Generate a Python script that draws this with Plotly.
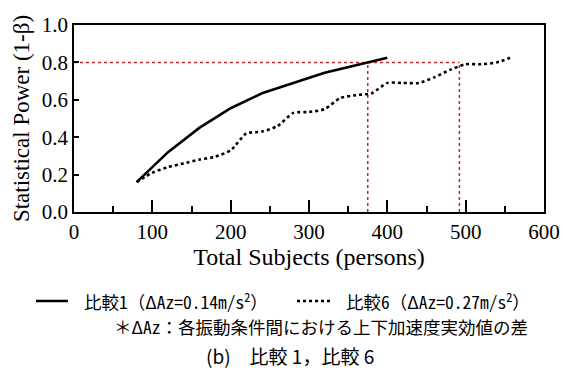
import plotly.graph_objects as go

# Data
x_cmp1 = [80, 120, 160, 200, 240, 280, 320, 360, 400]
y_cmp1 = [0.16, 0.32, 0.45, 0.555, 0.635, 0.69, 0.745, 0.785, 0.825]

x_cmp6 = [80, 100, 120, 140, 160, 180, 200, 220, 240, 260, 280, 300, 320, 340, 360,
          380, 400, 420, 440, 460, 480, 500, 520, 540, 560]
y_cmp6 = [0.16, 0.21, 0.24, 0.26, 0.28, 0.295, 0.33, 0.42, 0.43, 0.46, 0.53, 0.535,
          0.55, 0.61, 0.625, 0.635, 0.69, 0.69, 0.69, 0.72, 0.76, 0.79, 0.79, 0.80, 0.83]

target_power = 0.8
n_cmp1_at_target = 375
n_cmp6_at_target = 492

x_ticks = [0, 100, 200, 300, 400, 500, 600]
x_minor = [50, 150, 250, 350, 450, 550]
y_ticks = [0.0, 0.2, 0.4, 0.6, 0.8, 1.0]

legend1 = "比較1（ΔAz=0.14m/s<sup>2</sup>）"
legend6 = "比較6（ΔAz=0.27m/s<sup>2</sup>）"
note = "＊ΔAz：各振動条件間における上下加速度実効値の差"
caption = "(b)　比較 1，比較 6"

red = "#c0262b"
serif = "Liberation Serif"
jp = "Noto Sans Mono CJK JP, Noto Sans CJK JP"
jp2 = "Noto Sans CJK JP"

fig = go.Figure()

# Reference (red dotted) lines
for xs, ys in [([0, n_cmp6_at_target], [target_power, target_power]),
               ([n_cmp1_at_target, n_cmp1_at_target], [0, target_power]),
               ([n_cmp6_at_target, n_cmp6_at_target], [0, target_power])]:
    fig.add_trace(go.Scatter(x=xs, y=ys, mode="lines", line=dict(color=red, width=1.5, dash="dot"),
                             showlegend=False, hoverinfo="skip"))

fig.add_trace(go.Scatter(x=x_cmp1, y=y_cmp1, mode="lines", name=legend1,
                         line=dict(color="black", width=2.6), showlegend=False))
fig.add_trace(go.Scatter(x=x_cmp6, y=y_cmp6, mode="lines", name=legend6,
                         line=dict(color="black", width=2.6, dash="dot", shape="spline", smoothing=0.6),
                         showlegend=False))

fig.update_xaxes(range=[0, 600], tickvals=x_ticks, ticks="inside", ticklen=12, tickwidth=1.5,
                 tickcolor="black", showline=True, linecolor="black", linewidth=1.5, mirror=True,
                 showgrid=False, zeroline=False, automargin=False,
                 minor=dict(tickvals=x_minor, ticks="inside", ticklen=6, tickwidth=1.5, tickcolor="black"),
                 tickfont=dict(family=serif, size=21, color="black"),
                 title=dict(text="Total Subjects (persons)", font=dict(family=serif, size=24, color="black"),
                            standoff=2))
fig.update_yaxes(range=[0, 1.0], tickvals=y_ticks, tickformat=".1f", ticks="inside", ticklen=5,
                 tickwidth=1.5, tickcolor="black", showline=True, linecolor="black", linewidth=1.5,
                 mirror=True, showgrid=False, zeroline=False, automargin=False,
                 tickfont=dict(family=serif, size=21, color="black"),
                 title=dict(text="Statistical Power (1-β)", font=dict(family=serif, size=23, color="black"),
                            standoff=6))

# Manual legend (paper coords relative to plot area)
ly = -0.476
fig.add_shape(type="line", xref="paper", yref="paper", x0=-0.081, x1=-0.013, y0=ly, y1=ly,
              line=dict(color="black", width=2.5))
fig.add_shape(type="line", xref="paper", yref="paper", x0=0.4745, x1=0.551, y0=ly, y1=ly,
              line=dict(color="black", width=2.5, dash="dot"))

fig.add_annotation(xref="paper", yref="paper", x=0.017, y=ly, xanchor="left", yanchor="middle",
                   text=legend1, showarrow=False, font=dict(family=jp, size=17.5, color="black"))
fig.add_annotation(xref="paper", yref="paper", x=0.5745, y=ly, xanchor="left", yanchor="middle",
                   text=legend6, showarrow=False, font=dict(family=jp, size=17.5, color="black"))
fig.add_annotation(xref="paper", yref="paper", x=0.081, y=-0.610, xanchor="left", yanchor="middle",
                   text=note, showarrow=False, font=dict(family=jp, size=17.5, color="black"))
fig.add_annotation(xref="paper", yref="paper", x=0.4596, y=-0.770, xanchor="center", yanchor="middle",
                   text=caption, showarrow=False, font=dict(family=jp2, size=19, color="black"))

fig.update_layout(width=563, height=376, margin=dict(l=74, r=19, t=25, b=164),
                  paper_bgcolor="white", plot_bgcolor="white")

# remove the default 8px page margin so the figure fills the 563x376 window exactly
fig.write_html("out.html", config={"displayModeBar": False},
               post_script="document.body.style.margin='0';document.body.style.overflow='hidden';")
